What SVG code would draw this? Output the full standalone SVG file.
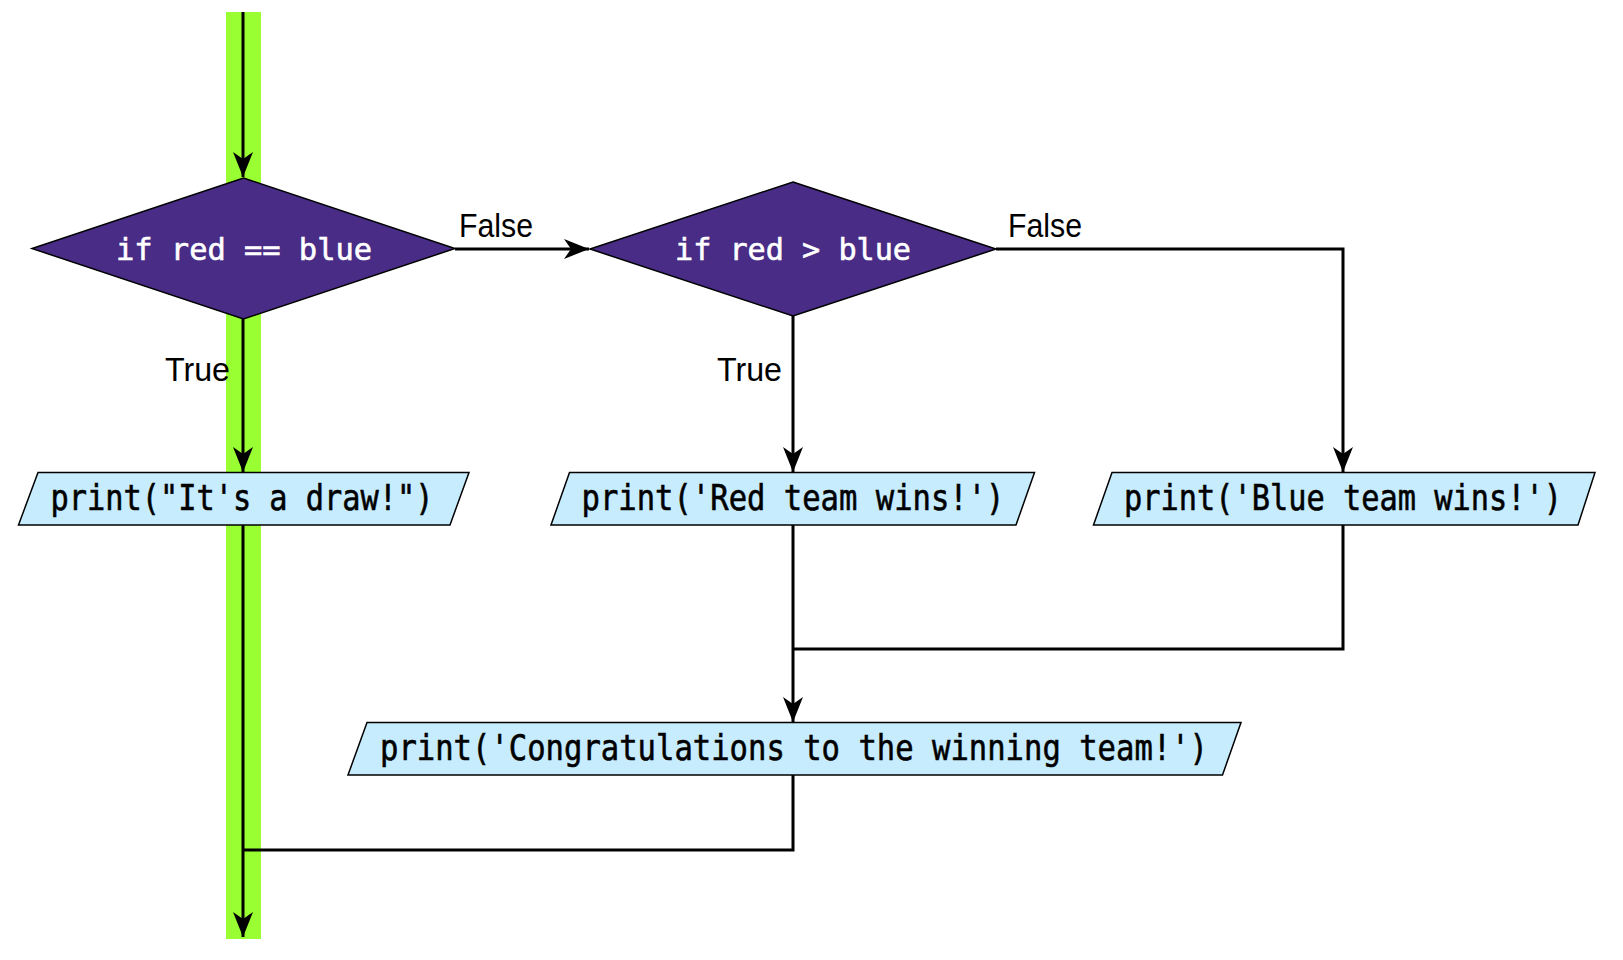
<svg xmlns="http://www.w3.org/2000/svg" width="1623" height="960" viewBox="0 0 1623 960">
<style>
.dec{fill:#482c86;stroke:#000;stroke-width:1.5}
.io{fill:#c6ecfd;stroke:#000;stroke-width:1.5}
.code{font-family:"DejaVu Sans Mono","Liberation Mono",monospace;text-anchor:middle}
.wt{fill:#fff;stroke:#fff;stroke-width:0.6;font-size:30px}
.bk{fill:#000;stroke:#000;stroke-width:0.6;font-size:36px}
.lbl{font-family:"Liberation Sans",Arial,sans-serif;font-size:33px;fill:#000}
.ln{fill:none;stroke:#000;stroke-width:3}
</style>
<defs>
<marker id="ah" markerUnits="userSpaceOnUse" markerWidth="30" markerHeight="24" viewBox="-26 -12 28 24" refX="0" refY="0" orient="auto">
<path d="M0,0 L-25,-10 L-18,0 L-25,10 Z" fill="#000"/>
</marker>
</defs>
<rect x="226" y="12" width="35" height="927" fill="#99ff33"/>
<g id="connectors">
<path class="ln" d="M243,12 V177" marker-end="url(#ah)"/>
<path class="ln" d="M243,319 V472" marker-end="url(#ah)"/>
<path class="ln" d="M455,249 H589" marker-end="url(#ah)"/>
<path class="ln" d="M793,316 V472" marker-end="url(#ah)"/>
<path class="ln" d="M996,249 H1343 V472" marker-end="url(#ah)"/>
<path class="ln" d="M793,525 V722" marker-end="url(#ah)"/>
<path class="ln" d="M1343,525 V649 H793"/>
<path class="ln" d="M793,775 V850 H243"/>
<path class="ln" d="M243,525 V937" marker-end="url(#ah)"/>
<text class="lbl" x="459" y="237" textLength="74" lengthAdjust="spacingAndGlyphs">False</text>
<text class="lbl" x="1008" y="237" textLength="74" lengthAdjust="spacingAndGlyphs">False</text>
<text class="lbl" x="165" y="381" textLength="65" lengthAdjust="spacingAndGlyphs">True</text>
<text class="lbl" x="717" y="381" textLength="65" lengthAdjust="spacingAndGlyphs">True</text>
</g>
<g id="d1">
<polygon class="dec" points="243.5,178 455,248.5 243.5,319 32,248.5"/>
<text class="code wt" x="244" y="260" textLength="256" lengthAdjust="spacingAndGlyphs">if red == blue</text>
</g>
<g id="d2">
<polygon class="dec" points="793,182 996,249 793,316 590,249"/>
<text class="code wt" x="793" y="260" textLength="236" lengthAdjust="spacingAndGlyphs">if red &gt; blue</text>
</g>
<g id="p1">
<polygon class="io" points="38,472.5 469,472.5 450,525 18.5,525"/>
<text class="code bk" x="242" y="510" textLength="383" lengthAdjust="spacingAndGlyphs">print("It's a draw!")</text>
</g>
<g id="p2">
<polygon class="io" points="569.5,472.5 1034.5,472.5 1016,525 551,525"/>
<text class="code bk" x="793" y="510" textLength="423" lengthAdjust="spacingAndGlyphs">print('Red team wins!')</text>
</g>
<g id="p3">
<polygon class="io" points="1112,472.5 1595,472.5 1578,525 1093.5,525"/>
<text class="code bk" x="1343" y="510" textLength="438" lengthAdjust="spacingAndGlyphs">print('Blue team wins!')</text>
</g>
<g id="p4">
<polygon class="io" points="367,722.5 1241,722.5 1222.5,775 348,775"/>
<text class="code bk" x="794" y="760" textLength="828" lengthAdjust="spacingAndGlyphs">print('Congratulations to the winning team!')</text>
</g>
</svg>
